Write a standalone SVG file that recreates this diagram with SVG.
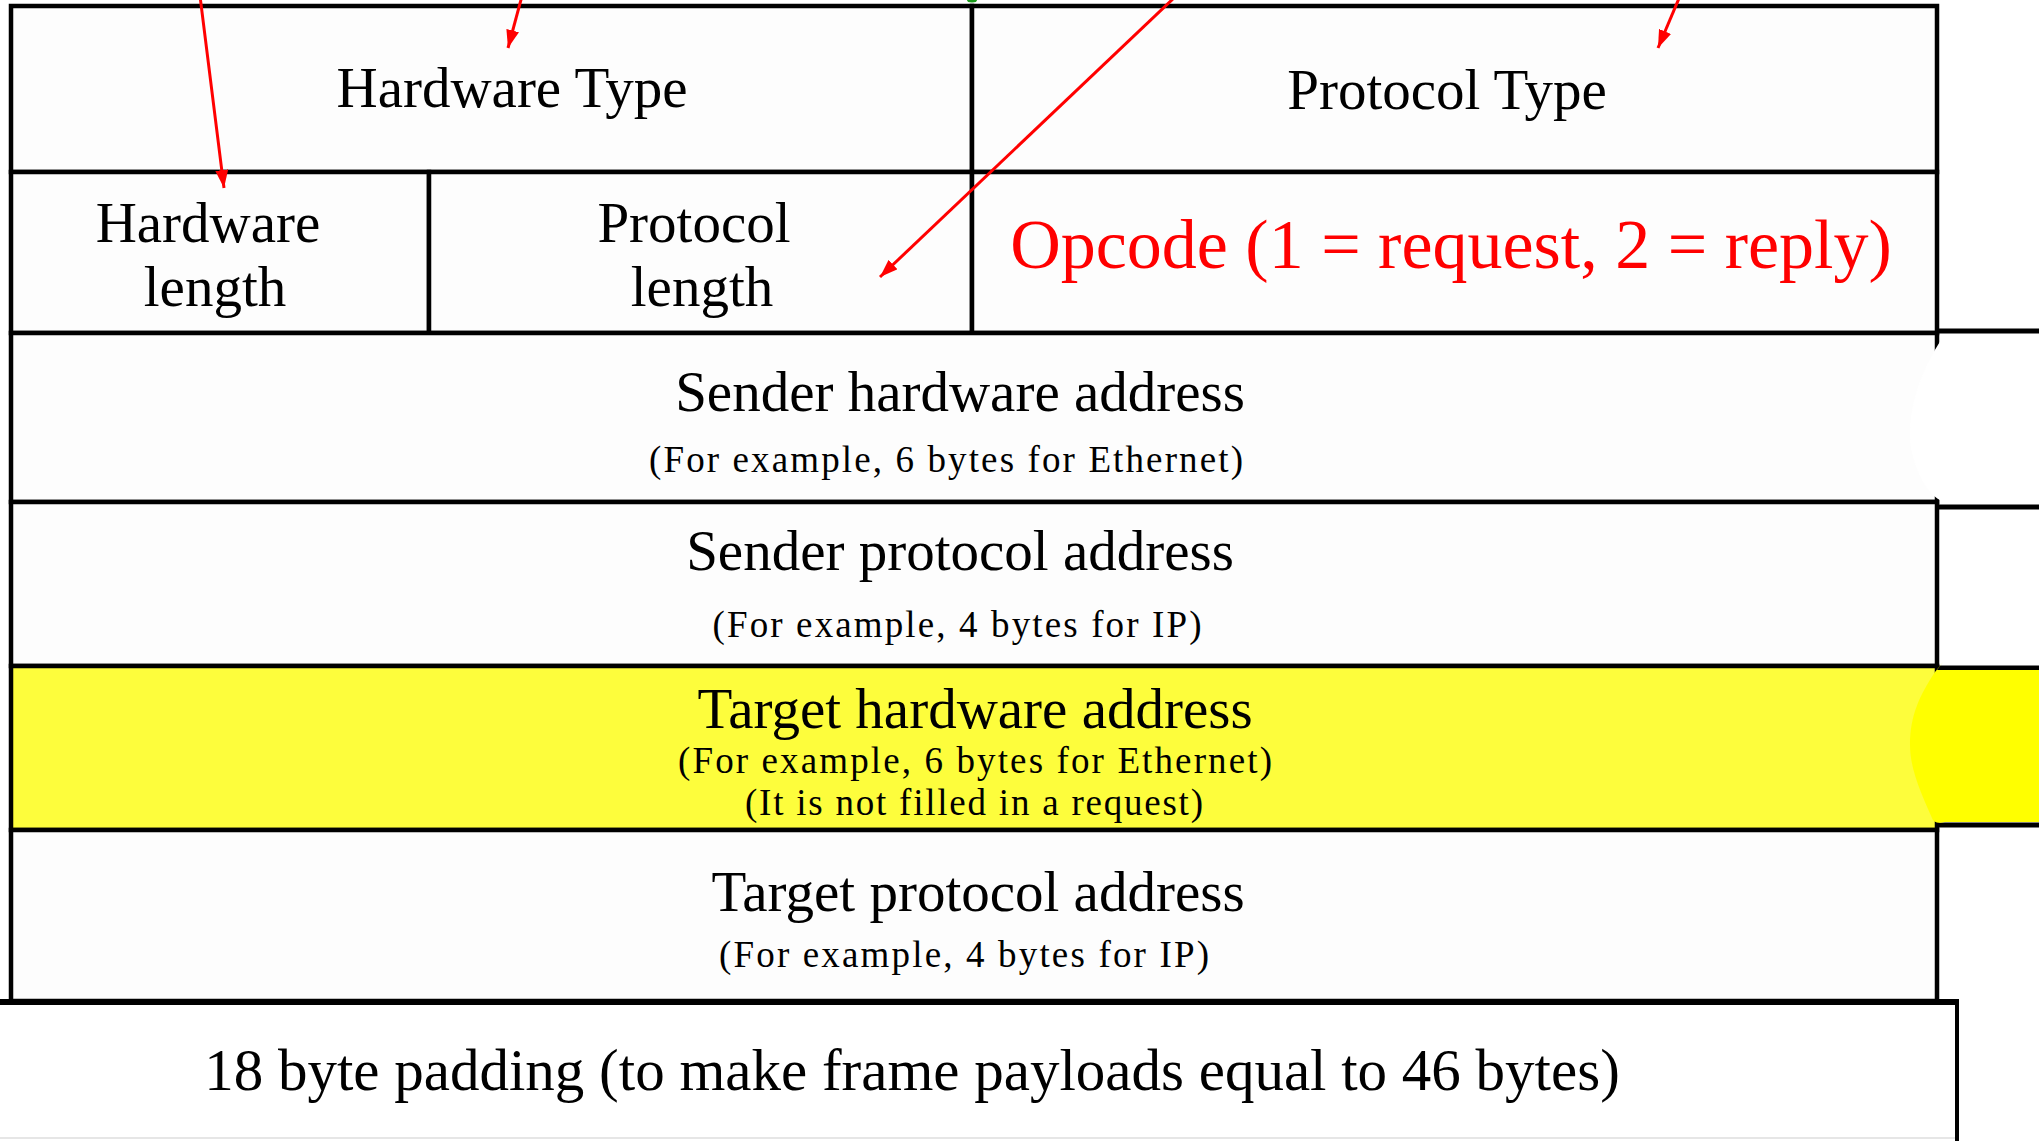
<svg xmlns="http://www.w3.org/2000/svg" width="2039" height="1141" viewBox="0 0 2039 1141">
<defs>
<style>
.cell{fill:#fdfdfd;stroke:#000;stroke-width:4.5}
.t{font-family:"Liberation Serif","Times New Roman",serif;font-size:57px;fill:#000;text-anchor:middle}
.s{font-family:"Liberation Serif","Times New Roman",serif;font-size:37px;fill:#000;text-anchor:middle}
.edge{stroke:#000;stroke-width:5;fill:none}
.arrow{stroke:#ff0000;stroke-width:3;fill:none;marker-end:url(#ah)}
</style>
<marker id="ah" markerUnits="userSpaceOnUse" markerWidth="18" markerHeight="13" refX="18" refY="6.5" orient="auto">
<path d="M0,0 L18,6.5 L0,13 z" fill="#ff0000"/>
</marker>
</defs>
<rect width="2039" height="1141" fill="#ffffff"/>

<g id="right-edges">
<line class="edge" x1="1937" y1="331" x2="2039" y2="331"/>
<line class="edge" x1="1937" y1="507" x2="2039" y2="507"/>
<line class="edge" x1="1937" y1="668" x2="2039" y2="668"/>
<line class="edge" x1="1937" y1="825" x2="2039" y2="825"/>
</g>

<g id="hardware-type"><rect class="cell" x="11" y="6" width="961" height="166"/><text class="t" x="512" y="107">Hardware Type</text></g>
<g id="protocol-type"><rect class="cell" x="972" y="6" width="965" height="166"/><text class="t" x="1447" y="109">Protocol Type</text></g>
<g id="hardware-length"><rect class="cell" x="11" y="172" width="418" height="161"/><text class="t" x="208" y="242">Hardware</text><text class="t" x="215" y="306">length</text></g>
<g id="protocol-length"><rect class="cell" x="429" y="172" width="543" height="161"/><text class="t" x="694" y="242">Protocol</text><text class="t" x="702" y="306">length</text></g>
<g id="opcode"><rect class="cell" x="972" y="172" width="965" height="161"/><text class="t" x="1451" y="268" style="font-size:70px;fill:#ff0000">Opcode (1 = request, 2 = reply)</text></g>
<g id="sender-hardware-address"><rect class="cell" x="11" y="333" width="1926" height="169"/><text class="t" x="960" y="411">Sender hardware address</text><text class="s" x="946" y="472" textLength="594" lengthAdjust="spacing">(For example, 6 bytes for Ethernet)</text></g>
<g id="sender-protocol-address"><rect class="cell" x="11" y="502" width="1926" height="164"/><text class="t" x="960" y="570">Sender protocol address</text><text class="s" x="957" y="637" textLength="489" lengthAdjust="spacing">(For example, 4 bytes for IP)</text></g>
<g id="target-hardware-address"><rect class="cell" x="11" y="666" width="1926" height="164" style="fill:#fdfd3c"/><text class="t" x="975" y="728">Target hardware address</text><text class="s" x="975" y="773" textLength="594" lengthAdjust="spacing">(For example, 6 bytes for Ethernet)</text><text class="s" x="974" y="815" textLength="458" lengthAdjust="spacing">(It is not filled in a request)</text></g>
<g id="target-protocol-address"><rect class="cell" x="11" y="830" width="1926" height="171"/><text class="t" x="978" y="911">Target protocol address</text><text class="s" x="964" y="967" textLength="490" lengthAdjust="spacing">(For example, 4 bytes for IP)</text></g>
<g id="padding"><rect x="0" y="1002" width="1957" height="139" fill="#ffffff"/><line x1="0" y1="1002" x2="1959" y2="1002" stroke="#000" stroke-width="6"/><line x1="1957" y1="1000" x2="1957" y2="1141" stroke="#000" stroke-width="4"/><line x1="0" y1="1138" x2="1955" y2="1138" stroke="#e6e6e6" stroke-width="2"/><text class="t" x="912" y="1090" style="font-size:59px">18 byte padding (to make frame payloads equal to 46 bytes)</text></g>

<g id="highlights">
<path d="M1944,336 C1918,372 1906,418 1911,448 C1916,474 1928,494 1940,500 L1941,336 Z" fill="#ffffff"/>
<path d="M1943,662 L1937,670 L2039,670 L2039,822 L1945,822 C1938,824 1933,822 1932,818 C1922,795 1910,770 1910,745 C1910,715 1920,695 1935,672 Z" fill="#ffff00"/>
<ellipse cx="972" cy="0" rx="5" ry="2.5" fill="#1a9a1a"/>
</g>

<g id="connectors">
<line class="arrow" x1="200" y1="-4" x2="224" y2="188"/>
<line class="arrow" x1="522" y1="-4" x2="508" y2="48"/>
<line class="arrow" x1="1176" y1="-4" x2="880" y2="277"/>
<line class="arrow" x1="1680" y1="-4" x2="1658" y2="48"/>
</g>
</svg>
